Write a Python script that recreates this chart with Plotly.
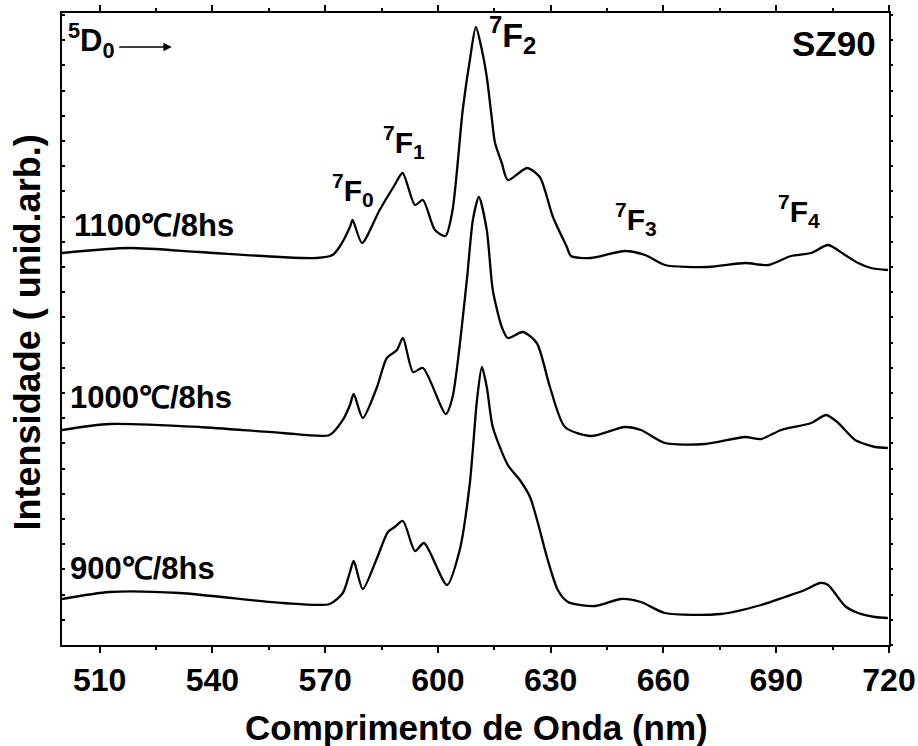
import plotly.graph_objects as go

# ---- data ----
wl_1100 = [500, 518, 536.6, 557.9, 567.8, 572.0, 573.8, 576.6, 577.3, 579.8,
           584.5, 588.5, 590.6, 593.9, 596.0, 599.2, 602.0, 603.9, 606.6, 608.5,
           610.1, 611.7, 613.0, 614.3, 615.2, 617.0, 618.6, 623.7, 627.1, 630.6,
           634.3, 635.4, 640.7, 649.7, 655.1, 660.4, 671.9, 681.7, 687.9, 693.9,
           699.3, 703.8, 708.3, 711.8, 715.2, 719.7]
int_1100 = [392, 397, 393, 388, 387, 390, 398, 418, 425, 402,
            435, 460, 472, 440, 445, 415, 409, 435, 535, 585,
            618, 595, 568, 528, 502, 482, 465, 477, 468, 428,
            398, 389, 387, 394, 390, 380, 378, 382, 380, 389,
            392, 400, 390, 382, 377, 375]

wl_1000 = [500, 512.7, 536.6, 558.7, 571.2, 574.7, 576.6, 577.6, 580.0, 583.8,
           586.4, 589.1, 590.7, 593.4, 596.0, 602.1, 603.9, 607.7, 609.3, 610.9,
           613.0, 614.6, 617.0, 618.6, 622.6, 626.3, 629.8, 633.8, 640.7, 649.7,
           654.0, 660.4, 671.0, 681.7, 686.0, 691.3, 699.3, 703.3, 706.5, 711.0,
           716.3, 719.7]
int_1000 = [215, 221, 218, 212, 210, 225, 240, 251, 227, 258,
            287, 295, 307, 273, 277, 231, 248, 365, 425, 448,
            415, 355, 318, 307, 313, 302, 258, 218, 209, 218,
            215, 202, 201, 208, 206, 215, 222, 230, 222, 205,
            198, 197]

wl_900 = [500, 512.7, 531.3, 558.7, 571.2, 574.7, 576.6, 577.6, 580.0, 583.8,
          586.7, 588.5, 590.7, 593.9, 596.3, 602.4, 605.8, 608.5, 610.4, 611.7,
          613.0, 614.6, 618.6, 621.8, 624.5, 626.6, 629.0, 631.9, 634.6, 641.8,
          648.7, 654.0, 660.4, 675.3, 686.0, 692.3, 697.6, 701.7, 703.8, 708.3,
          711.8, 716.3, 719.7]
int_900 = [46, 53, 52, 42, 41, 52, 73, 84, 56, 87,
           113, 118, 124, 94, 102, 60, 95, 162, 245, 278,
           258, 218, 180, 165, 148, 122, 88, 55, 43, 39,
           46, 43, 32, 31, 40, 48, 55, 62, 60, 39,
           32, 28, 27]

series_labels = ["1100℃/8hs", "1000℃/8hs", "900℃/8hs"]
x_ticks = [510, 540, 570, 600, 630, 660, 690, 720]

FONT = "Liberation Sans, Arial, Helvetica, sans-serif"

fig = go.Figure()
for wl, it, name in [(wl_1100, int_1100, series_labels[0]),
                     (wl_1000, int_1000, series_labels[1]),
                     (wl_900, int_900, series_labels[2])]:
    fig.add_trace(go.Scatter(x=wl, y=it, mode="lines", name=name,
                             line=dict(color="black", width=2.3, shape="spline", smoothing=0.7),
                             showlegend=False))
# helper trace so the right-hand tick axis is drawn
fig.add_trace(go.Scatter(x=[wl_900[0]], y=[int_900[0]], yaxis="y2", mode="lines",
                         line=dict(width=0), showlegend=False, hoverinfo="skip"))

def lbl(text, x, y, size, xanchor="left", yanchor="middle"):
    fig.add_annotation(text=text, x=x, y=y, xref="x", yref="y", showarrow=False,
                       xanchor=xanchor, yanchor=yanchor,
                       font=dict(family=FONT, size=size, color="black", weight="bold"))

# transition labels
lbl("<sup>7</sup>F<sub>0</sub>", 571.2, 455, 30)
lbl("<sup>7</sup>F<sub>1</sub>", 584.8, 503, 30)
lbl("<sup>7</sup>F<sub>2</sub>", 613.0, 610, 34)
lbl("<sup>7</sup>F<sub>3</sub>", 646.6, 426, 30)
lbl("<sup>7</sup>F<sub>4</sub>", 690.0, 434, 30)
lbl("<sup>5</sup>D<sub>0</sub>", 501.0, 605, 31)
lbl("SZ90", 717.1, 602, 35, xanchor="right")
# series labels
lbl(series_labels[0], 502.6, 420, 31)
lbl(series_labels[1], 501.5, 248, 31)
lbl(series_labels[2], 501.5, 77, 31)

# arrow after 5D0
fig.add_annotation(x=529.2, y=598, ax=-54, ay=0, xref="x", yref="y",
                   text="", showarrow=True, arrowhead=2, arrowsize=1.2,
                   arrowwidth=1.4, arrowcolor="black")

# axis titles
fig.add_annotation(text="Comprimento de Onda (nm)", xref="paper", yref="paper",
                   x=0.5016, y=-0.131, showarrow=False, xanchor="center", yanchor="middle",
                   font=dict(family=FONT, size=35, color="black", weight="bold"))
fig.add_annotation(text="Intensidade ( unid.arb.)", xref="paper", yref="paper",
                   x=-0.0416, y=0.494, showarrow=False, xanchor="center", yanchor="middle",
                   textangle=-90,
                   font=dict(family=FONT, size=36, color="black", weight="bold"))

fig.update_layout(
    width=918, height=746,
    margin=dict(l=62, r=29, t=13, b=101, autoexpand=False),
    paper_bgcolor="white", plot_bgcolor="white",
    xaxis=dict(range=[500, 720], showline=True, linewidth=2, linecolor="black",
               mirror="ticks", ticks="outside", ticklen=6, tickwidth=2, tickcolor="black",
               tickvals=x_ticks, showgrid=False, zeroline=False, automargin=False,
               minor=dict(ticks="outside", ticklen=3, tickwidth=1.5, tickcolor="black",
                          dtick=15, tick0=510, showgrid=False),
               tickfont=dict(family=FONT, size=32, color="black", weight="bold")),
    yaxis=dict(range=[0, 632], showline=True, linewidth=2, linecolor="black",
               mirror=True, ticks="inside", ticklen=3, tickwidth=1.5, tickcolor="black",
               tick0=0, dtick=25.2, showticklabels=False, showgrid=False, zeroline=False,
               automargin=False),
    yaxis2=dict(range=[0, 632], overlaying="y", side="right", showline=False,
                ticks="outside", ticklen=3, tickwidth=1.5, tickcolor="black",
                tick0=0, dtick=25.2, showticklabels=False, showgrid=False, zeroline=False,
                automargin=False),
)

fig.write_html("out.html")
